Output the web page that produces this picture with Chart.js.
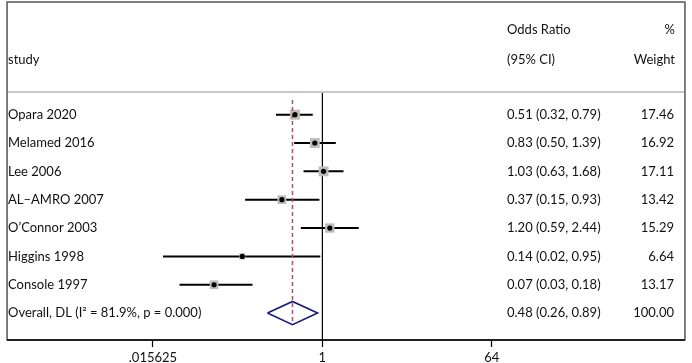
<!DOCTYPE html>
<html lang="en">
<head>
  <meta charset="UTF-8" />
  <title>Forest plot</title>
  <script src="https://cdn.jsdelivr.net/npm/chart.js"></script>
  <style>
    html, body { margin: 0; padding: 0; background: #fff; }
    #forest { display: block; }
  </style>
</head>
<body>
  <canvas id="forest" width="692" height="363"></canvas>

  <script>
    // study rows
    const studies   = ["Opara 2020", "Melamed 2016", "Lee 2006", "AL\u2013AMRO 2007", "O\u2019Connor 2003", "Higgins 1998", "Console 1997"];
    const oddsRatio = [0.51, 0.83, 1.03, 0.37, 1.20, 0.14, 0.07];
    const ciLower   = [0.32, 0.50, 0.63, 0.15, 0.59, 0.02, 0.03];
    const ciUpper   = [0.79, 1.39, 1.68, 0.93, 2.44, 0.95, 0.18];
    const weights   = [17.46, 16.92, 17.11, 13.42, 15.29, 6.64, 13.17];

    // pooled estimate
    const overallLabel  = "Overall, DL (I\u00b2 = 81.9%, p = 0.000)";
    const overallOR     = 0.48;
    const overallLower  = 0.26;
    const overallUpper  = 0.89;
    const overallWeight = 100.00;

    // x axis
    const tickValues = [0.015625, 1, 64];
    const tickLabels = [".015625", "1", "64"];

    const FONT = "Lato, sans-serif";
    const FSIZE = 13;
    const TEXT = "#111";
    const overallRow = studies.length;
    const yMin = -0.8, yMax = 7.95;

    const fmt = v => v.toFixed(2);
    const orText = (o, l, u) => `${fmt(o)} (${fmt(l)}, ${fmt(u)})`;

    const datasets = [];

    // centre dots
    datasets.push({
      data: oddsRatio.map((v, i) => ({ x: v, y: i })),
      pointStyle: 'circle', pointRadius: 2.6,
      backgroundColor: '#000', borderColor: '#000', borderWidth: 0,
      order: 1
    });
    // weight boxes (area ~ weight)
    datasets.push({
      data: oddsRatio.map((v, i) => ({ x: v, y: i })),
      pointStyle: 'rect',
      pointRadius: weights.map(w => 1.69 * Math.sqrt(w)),
      backgroundColor: '#bdbdbd', borderWidth: 0,
      order: 3
    });
    // confidence intervals
    studies.forEach((s, i) => {
      datasets.push({
        data: [{ x: ciLower[i], y: i }, { x: ciUpper[i], y: i }],
        showLine: true, borderColor: '#000', borderWidth: 2,
        pointRadius: 0, order: 4
      });
    });
    // pooled diamond
    datasets.push({
      data: [
        { x: overallLower, y: overallRow },
        { x: overallOR, y: overallRow - 0.41 },
        { x: overallUpper, y: overallRow },
        { x: overallOR, y: overallRow + 0.41 },
        { x: overallLower, y: overallRow }
      ],
      showLine: true, borderColor: '#1a1a7a', borderWidth: 1.6,
      pointRadius: 0, fill: false, order: 0
    });
    // dashed line at pooled estimate
    datasets.push({
      data: [{ x: overallOR, y: -0.52 }, { x: overallOR, y: overallRow + 0.41 }],
      showLine: true, borderColor: '#b4505c', borderWidth: 1.5, borderDash: [4, 3],
      pointRadius: 0, order: 2
    });
    // line of no effect
    datasets.push({
      data: [{ x: 1, y: yMin }, { x: 1, y: yMax }],
      showLine: true, borderColor: '#000', borderWidth: 1.2,
      pointRadius: 0, order: 5
    });

    const forestText = {
      id: 'forestText',
      afterDraw(chart) {
        const { ctx, chartArea, scales: { y } } = chart;
        ctx.save();

        // frame + header separator
        ctx.strokeStyle = '#555';
        ctx.lineWidth = 1.5;
        ctx.strokeRect(chartArea.left, 2, chartArea.right - chartArea.left, chartArea.bottom - 2);
        ctx.strokeStyle = '#c8c8c8';
        ctx.lineWidth = 2;
        ctx.beginPath();
        ctx.moveTo(chartArea.left + 1, chartArea.top);
        ctx.lineTo(chartArea.right - 1, chartArea.top);
        ctx.stroke();
        ctx.strokeStyle = '#000';
        ctx.lineWidth = 1.5;
        ctx.beginPath();
        ctx.moveTo(chartArea.left, chartArea.bottom);
        ctx.lineTo(chartArea.right, chartArea.bottom);
        ctx.stroke();

        ctx.fillStyle = TEXT;
        ctx.font = `${FSIZE}px ${FONT}`;
        ctx.textBaseline = 'middle';

        // headers
        ctx.textAlign = 'left';
        ctx.fillText('study', 8, 60);
        ctx.fillText('Odds Ratio', 507, 30);
        ctx.fillText('(95% CI)', 507, 60);
        ctx.textAlign = 'right';
        ctx.fillText('%', 675, 30);
        ctx.fillText('Weight', 675, 60);

        // rows
        studies.forEach((s, i) => {
          const py = y.getPixelForValue(i);
          ctx.textAlign = 'left';
          ctx.fillText(s, 8, py);
          ctx.fillText(orText(oddsRatio[i], ciLower[i], ciUpper[i]), 507, py);
          ctx.textAlign = 'right';
          ctx.fillText(fmt(weights[i]), 674, py);
        });
        const oy = y.getPixelForValue(overallRow);
        ctx.textAlign = 'left';
        ctx.fillText(overallLabel, 8, oy);
        ctx.fillText(orText(overallOR, overallLower, overallUpper), 507, oy);
        ctx.textAlign = 'right';
        ctx.fillText(fmt(overallWeight), 674, oy);

        ctx.restore();
      }
    };

    new Chart(document.getElementById('forest'), {
      type: 'scatter',
      data: { datasets },
      options: {
        responsive: false,
        animation: false,
        devicePixelRatio: 1,
        layout: { padding: { top: 92, left: 2, right: 2, bottom: 0 } },
        plugins: { legend: { display: false }, tooltip: { enabled: false } },
        scales: {
          x: {
            type: 'logarithmic',
            bounds: 'data',
            min: 4.35e-4,
            max: 7331,
            afterBuildTicks: s => { s.ticks = tickValues.map(v => ({ value: v })); },
            afterFit: s => { s.height = 23; },
            ticks: {
              autoSkip: false, maxRotation: 0, padding: 3,
              color: TEXT, font: { family: FONT, size: FSIZE },
              callback: v => tickLabels[tickValues.indexOf(v)]
            },
            grid: { drawOnChartArea: false, drawTicks: true, tickLength: 7, color: '#000', tickWidth: 1.2 },
            border: { display: false }
          },
          y: {
            type: 'linear',
            display: false,
            reverse: true,
            min: yMin,
            max: yMax
          }
        }
      },
      plugins: [forestText]
    });
  </script>
</body>
</html>
